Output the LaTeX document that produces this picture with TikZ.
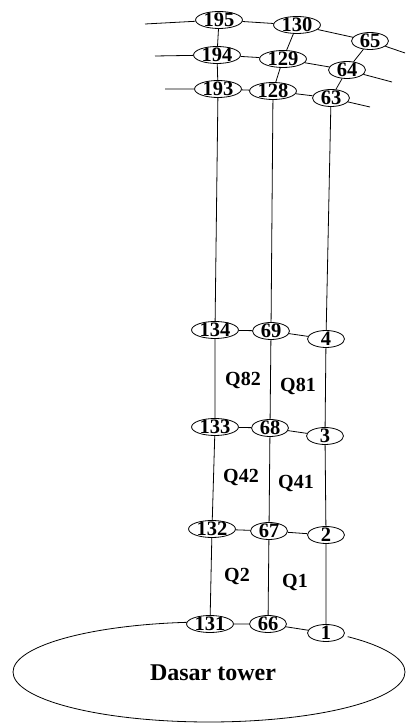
\documentclass[tikz,border=0pt]{standalone}
\usepackage{fontspec}
\setmainfont{Liberation Serif}
\usetikzlibrary{shapes.geometric,calc}
\begin{document}
\begin{tikzpicture}[x=1pt,y=1pt,
  nd/.style={draw,ellipse,fill=white,line width=0.8pt,inner xsep=1.2pt,inner ysep=-1.5pt,
    minimum width=37pt,minimum height=17pt,font=\bfseries\fontsize{20.5}{20}\selectfont},
  ql/.style={font=\bfseries\fontsize{20}{20}\selectfont,inner sep=0pt},
  ln/.style={line width=0.8pt}]
\useasboundingbox (0,0) rectangle (406,724);
% tower ellipse
\coordinate (ec) at (209,52);
\coordinate (e1) at ($(ec)+(45:196 and 50)$);
\draw[ln] (e1) arc[start angle=45,end angle=-265,x radius=196,y radius=50];
\node[font=\bfseries\fontsize{24}{24}\selectfont] (dt) at (213,51) {Dasar tower};
% nodes
\node[nd] (n195) at (219,704) {195};
\node[nd] (n130) at (297,699) {130};
\node[nd] (n65)  at (370,683) {65};
\node[nd] (n194) at (217,669) {194};
\node[nd] (n129) at (283,665) {129};
\node[nd] (n64)  at (347,654) {64};
\node[nd] (n193) at (218,635) {193};
\node[nd] (n128) at (273,633) {128};
\node[nd] (n63)  at (331,626) {63};
\node[nd] (n134) at (215,394) {134};
\node[nd] (n69)  at (271,393) {69};
\node[nd] (n4)   at (326,385) {4};
\node[nd] (n133) at (215,297) {133};
\node[nd] (n68)  at (270,296) {68};
\node[nd] (n3)   at (325,288) {3};
\node[nd] (n132) at (212,195) {132};
\node[nd] (n67)  at (269,193) {67};
\node[nd] (n2)   at (326,189) {2};
\node[nd] (n131) at (210,100) {131};
\node[nd] (n66)  at (268,100) {66};
\node[nd] (n1)   at (326,91)  {1};
% free ends
\coordinate (l195) at (145,700);
\coordinate (l194) at (155,668);
\coordinate (l193) at (165,635);
\coordinate (r65) at (405,671);
\coordinate (r64) at (392,642);
\coordinate (r63) at (370,617);
% connectors
\draw[ln] (l195) -- (n195) -- (n130) -- (n65) -- (r65);
\draw[ln] (l194) -- (n194) -- (n129) -- (n64) -- (r64);
\draw[ln] (l193) -- (n193) -- (n128) -- (n63) -- (r63);
\draw[ln] (n195) -- (n194) -- (n193);
\draw[ln] (n130) -- (n129) -- (n128);
\draw[ln] (n65) -- (n64) -- (n63);
\draw[ln] (n193) -- (n134) -- (n133) -- (n132) -- (n131);
\draw[ln] (n128) -- (n69) -- (n68) -- (n67) -- (n66);
\draw[ln] (n63) -- (n4) -- (n3) -- (n2) -- (n1);
\draw[ln] (n134) -- (n69) -- (n4);
\draw[ln] (n133) -- (n68) -- (n3);
\draw[ln] (n132) -- (n67) -- (n2);
\draw[ln] (n131) -- (n66) -- (n1);
% labels
\node[ql] (q82) at (243,344) {Q82};
\node[ql] (q81) at (298,338) {Q81};
\node[ql] (q42) at (241,246) {Q42};
\node[ql] (q41) at (296,240) {Q41};
\node[ql] (q2)  at (237,147) {Q2};
\node[ql] (q1)  at (295,141) {Q1};
\end{tikzpicture}
\end{document}
